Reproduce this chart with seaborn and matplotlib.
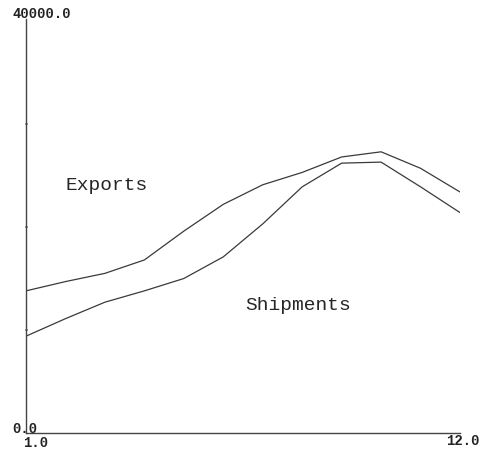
import numpy as np
import pandas as pd
import matplotlib
matplotlib.use("Agg")
import matplotlib.pyplot as plt
import seaborn as sns

# Monthly series (month 1..12)
months = list(range(1, 13))
exports = [13800, 14700, 15500, 16800, 19600, 22200, 24100, 25300, 26800, 27300, 25700, 23400]
shipments = [9400, 11100, 12700, 13800, 15000, 17100, 20300, 23900, 26200, 26300, 23900, 21400]
series_names = ["Exports", "Shipments"]
y_max = 40000.0

df = pd.DataFrame({
    "month": months * 2,
    "value": exports + shipments,
    "series": [series_names[0]] * 12 + [series_names[1]] * 12,
})

sns.set_style("white")
plt.rcParams["font.family"] = ["Liberation Mono", "DejaVu Sans Mono"]

fig = plt.figure(figsize=(4.84, 4.52), dpi=100)
ax = fig.add_axes([26 / 484, 18 / 452, 434 / 484, 412 / 452])

sns.lineplot(data=df, x="month", y="value", hue="series",
             palette={"Exports": "#3a3a3a", "Shipments": "#3a3a3a"},
             linewidth=0.9, legend=False, ax=ax)

ax.set_xlim(1, 12)
ax.set_ylim(0, y_max)
ax.set_xlabel("")
ax.set_ylabel("")
ax.set_xticks([])
ax.set_yticks([])

for s in ["top", "right"]:
    ax.spines[s].set_visible(False)
for s in ["left", "bottom"]:
    ax.spines[s].set_color("#444444")
    ax.spines[s].set_linewidth(1.0)
ax.spines["left"].set_bounds(0, y_max * 1.005)

# small tick marks on the value axis
for v in [10000, 20000, 30000]:
    ax.plot([1, 1.03], [v, v], color="#444444", lw=1.2, clip_on=False)

# axis end labels
tick_kw = dict(fontsize=10, fontweight="bold", color="#222222", clip_on=False,
               transform=ax.transAxes, va="baseline")
ax.text(-0.030, 1.010, "40000.0", ha="left", **tick_kw)
ax.text(-0.032, 0.002, "0.0", ha="left", **tick_kw)
ax.text(-0.007, -0.032, "1.0", ha="left", **tick_kw)
ax.text(1.046, -0.027, "12.0", ha="right", **tick_kw)

# series labels
ax.text(2.0, 24100, "Exports", fontsize=14, color="#262626", ha="left", va="center")
ax.text(6.55, 12450, "Shipments", fontsize=14, color="#262626", ha="left", va="center")

fig.savefig("out.png", dpi=100, facecolor="white")
